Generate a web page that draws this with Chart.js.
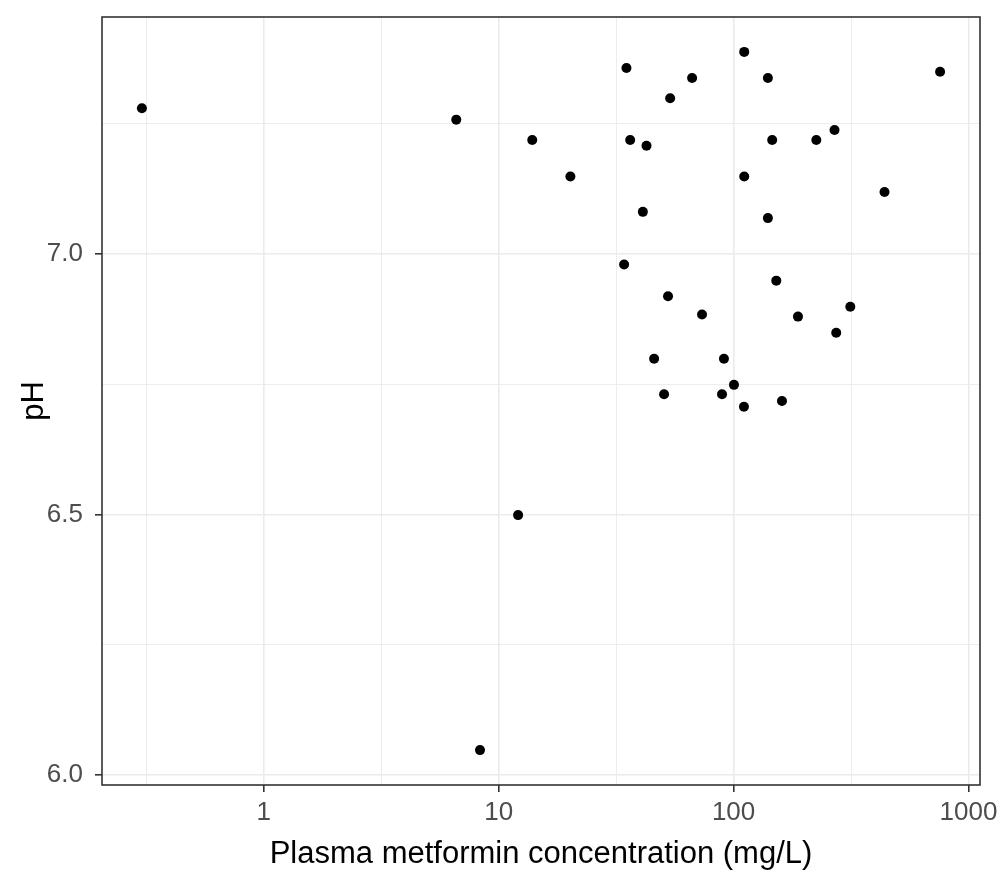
<!DOCTYPE html>
<html><head><meta charset="utf-8">
<script src="https://cdn.jsdelivr.net/npm/chart.js@4.4.1/dist/chart.umd.min.js"></script>
<style>html,body{margin:0;padding:0;background:#fff}</style>
</head><body>
<canvas id="c" width="997" height="870"></canvas>
<script>
// Plasma metformin concentration (mg/L)
const concentration = [0.303, 6.6, 13.9, 20.2, 35.0, 36.3, 42.6, 53.7, 66.6, 41.1,
  111, 140, 146, 111, 140, 225, 269, 439, 757,
  34.2, 52.6, 73.4, 45.9, 91, 100.4, 50.6, 89.3, 152, 188, 314, 273.5, 110.7, 160.7,
  12.1, 8.33];
// pH
const pHValues = [7.28, 7.258, 7.219, 7.149, 7.357, 7.219, 7.208, 7.299, 7.338, 7.081,
  7.388, 7.338, 7.219, 7.149, 7.069, 7.219, 7.238, 7.119, 7.35,
  6.98, 6.919, 6.884, 6.799, 6.799, 6.749, 6.731, 6.731, 6.949, 6.88, 6.899, 6.849, 6.707, 6.718,
  6.499, 6.048];
const xMajorTicks = [1, 10, 100, 1000];
const xMinorTicks = [0.3162, 3.162, 31.62, 316.2];
const yMajorTicks = [6.0, 6.5, 7.0];
const yMinorTicks = [6.25, 6.75, 7.25];

const near = (a, b) => Math.abs(a - b) < 1e-6 * Math.max(1, Math.abs(b));
const isIn = (v, arr) => arr.some(t => near(v, t));

// ggplot-style 5% expansion
const lx = concentration.map(Math.log10);
const lxMin = Math.min(...lx), lxMax = Math.max(...lx), lxPad = (lxMax - lxMin) * 0.05;
const yMinD = Math.min(...pHValues), yMaxD = Math.max(...pHValues), yPad = (yMaxD - yMinD) * 0.05;

const points = concentration.map((x, i) => ({x: x, y: pHValues[i]}));

const panelBorder = {
  id: 'panelBorder',
  afterDraw(chart) {
    const a = chart.chartArea, ctx = chart.ctx;
    ctx.save();
    ctx.strokeStyle = '#333333';
    ctx.lineWidth = 1.6;
    ctx.strokeRect(a.left, a.top, a.right - a.left, a.bottom - a.top);
    ctx.restore();
  }
};

const tickFont = {family: "'Liberation Sans', Arial, sans-serif", size: 26};
const xTitleFont = {family: "'Liberation Sans', Arial, sans-serif", size: 31, lineHeight: 1.0};
const yTitleFont = {family: "'Liberation Sans', Arial, sans-serif", size: 31, lineHeight: 1.2};

new Chart(document.getElementById('c'), {
  type: 'scatter',
  data: {datasets: [{
    data: points,
    backgroundColor: '#000000',
    borderWidth: 0,
    pointRadius: 5,
    pointHoverRadius: 5
  }]},
  options: {
    responsive: false,
    animation: false,
    devicePixelRatio: 1,
    layout: {padding: {top: 17, right: 17, left: 0, bottom: 0}},
    plugins: {legend: {display: false}, tooltip: {enabled: false}},
    scales: {
      x: {
        type: 'logarithmic',
        min: Math.pow(10, lxMin - lxPad),
        max: Math.pow(10, lxMax + lxPad),
        afterBuildTicks: s => {
          s.ticks = [...xMinorTicks, ...xMajorTicks].sort((a, b) => a - b).map(v => ({value: v}));
        },
        afterFit: s => { s.height = 85; s.paddingLeft = 0; s.paddingRight = 0; },
        ticks: {
          autoSkip: false, maxRotation: 0, minRotation: 0,
          color: '#4D4D4D', font: tickFont, padding: 5,
          callback: v => isIn(v, xMajorTicks) ? String(v) : ''
        },
        grid: {
          color: '#EBEBEB',
          lineWidth: c => (c.tick && isIn(c.tick.value, xMajorTicks)) ? 1.6 : 0.9,
          tickColor: c => (c.tick && isIn(c.tick.value, xMajorTicks)) ? '#333333' : 'rgba(0,0,0,0)',
          tickLength: 7,
          tickWidth: 1.6
        },
        border: {display: false},
        title: {display: true, text: 'Plasma metformin concentration (mg/L)', color: '#000000',
          font: xTitleFont, padding: {top: 0, bottom: 0}}
      },
      y: {
        type: 'linear',
        min: yMinD - yPad,
        max: yMaxD + yPad,
        afterBuildTicks: s => {
          s.ticks = [...yMajorTicks, ...yMinorTicks].sort((a, b) => a - b).map(v => ({value: v}));
        },
        afterFit: s => { s.width = 102; s.paddingTop = 0; s.paddingBottom = 0; },
        ticks: {
          autoSkip: false, color: '#4D4D4D', font: tickFont, padding: 12,
          callback: v => isIn(v, yMajorTicks) ? Number(v).toFixed(1) : ''
        },
        grid: {
          color: '#EBEBEB',
          lineWidth: c => (c.tick && isIn(c.tick.value, yMajorTicks)) ? 1.6 : 0.9,
          tickColor: c => (c.tick && isIn(c.tick.value, yMajorTicks)) ? '#333333' : 'rgba(0,0,0,0)',
          tickLength: 7,
          tickWidth: 1.6
        },
        border: {display: false},
        title: {display: true, text: 'pH', color: '#000000', font: yTitleFont, padding: {top: 16, bottom: 0}}
      }
    }
  },
  plugins: [panelBorder]
});
</script>
</body></html>
